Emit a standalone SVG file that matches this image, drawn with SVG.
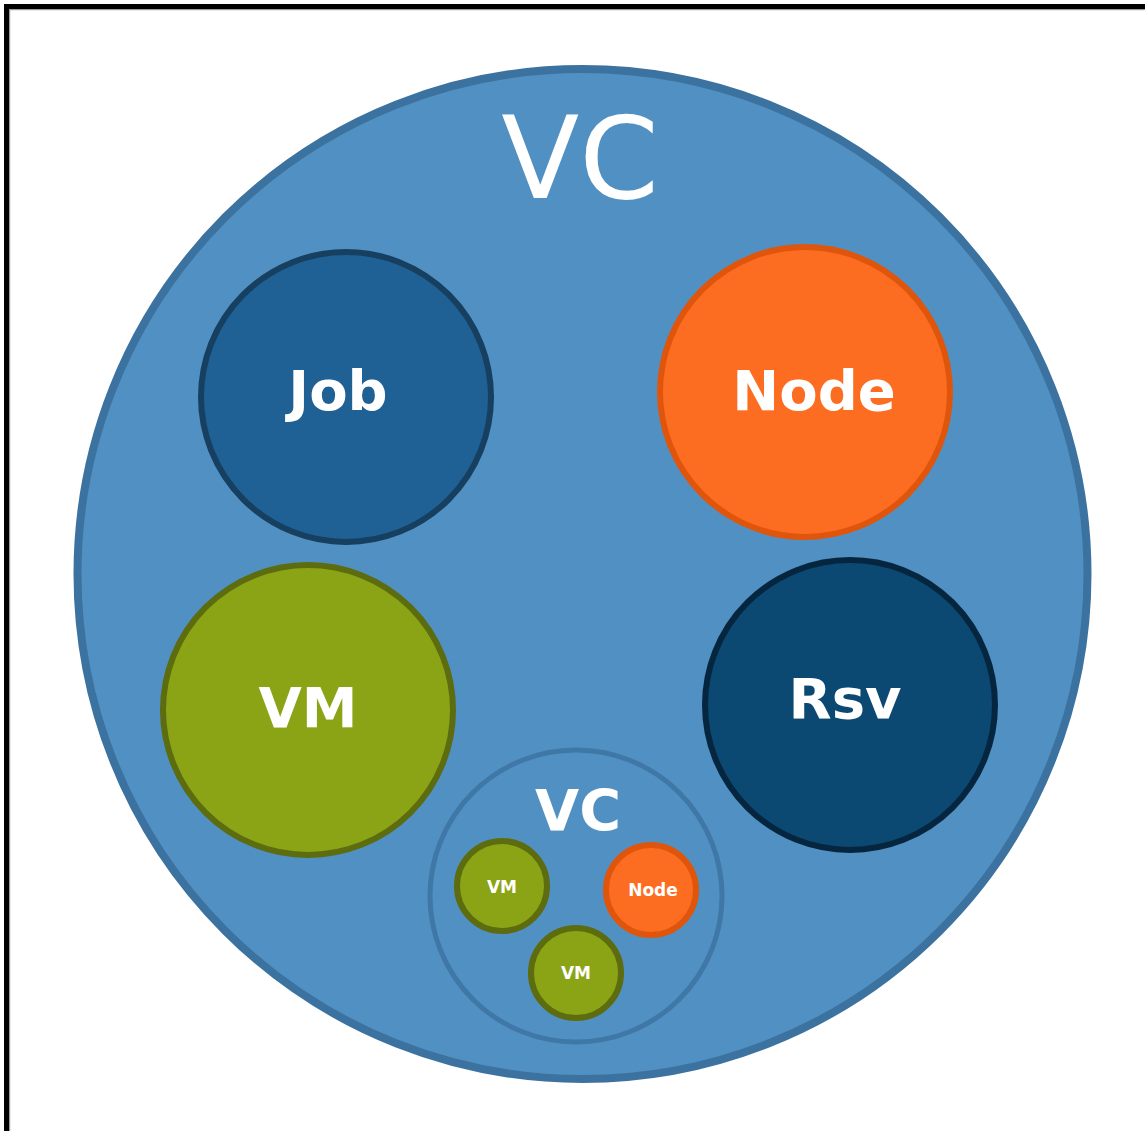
<svg xmlns="http://www.w3.org/2000/svg" width="1145" height="1131" viewBox="0 0 1145 1131">
<style>
.lbl{font-family:"DejaVu Sans",Verdana,sans-serif;font-weight:bold;fill:#ffffff;text-anchor:middle}
.big{stroke-width:6}
.sm{stroke-width:6}
</style>
<rect x="0" y="0" width="1145" height="1131" fill="#ffffff"/>
<rect x="4" y="4" width="1141" height="5" fill="#000000"/>
<rect x="4" y="4" width="5" height="1127" fill="#000000"/>
<rect x="9" y="9" width="1136" height="1.2" fill="#999999"/>
<rect x="9" y="9" width="1.2" height="1122" fill="#999999"/>
<g id="vc-outer">
<circle cx="582.5" cy="574" r="505" fill="#5190c2" stroke="#3c72a0" stroke-width="8"/>
<text x="580" y="198" font-family="DejaVu Sans,Verdana,sans-serif" font-size="114" fill="#ffffff" text-anchor="middle">VC</text>
</g>
<g id="job">
<circle cx="346" cy="397" r="145" fill="#1f6195" stroke="#173f5f" class="big"/>
<text class="lbl" x="338" y="410" font-size="56">Job</text>
</g>
<g id="node">
<circle cx="805" cy="392" r="145" fill="#fc6d22" stroke="#e0550c" class="big"/>
<text class="lbl" x="814" y="410" font-size="56">Node</text>
</g>
<g id="vm">
<circle cx="308" cy="710" r="145" fill="#8ba416" stroke="#5c6c0e" class="big"/>
<text class="lbl" x="308" y="727" font-size="56">VM</text>
</g>
<g id="rsv">
<circle cx="850" cy="705" r="145" fill="#0b4872" stroke="#062640" class="big"/>
<text class="lbl" x="845" y="718" font-size="56">Rsv</text>
</g>
<g id="vc-inner">
<circle cx="576" cy="896" r="146" fill="none" stroke="#3f78a6" stroke-width="5"/>
<text class="lbl" x="578" y="831" font-size="57">VC</text>
</g>
<g id="vm-small-1">
<circle cx="502" cy="886" r="45" fill="#8ba416" stroke="#5c6c0e" class="sm"/>
<text class="lbl" x="502" y="893" font-size="17" fill="#f2f2e6">VM</text>
</g>
<g id="node-small">
<circle cx="651" cy="890" r="45" fill="#fc6d22" stroke="#e0550c" class="sm"/>
<text class="lbl" x="653" y="896" font-size="17">Node</text>
</g>
<g id="vm-small-2">
<circle cx="576" cy="973" r="45" fill="#8ba416" stroke="#5c6c0e" class="sm"/>
<text class="lbl" x="576" y="979" font-size="17">VM</text>
</g>
<g id="connectors"></g>
</svg>
